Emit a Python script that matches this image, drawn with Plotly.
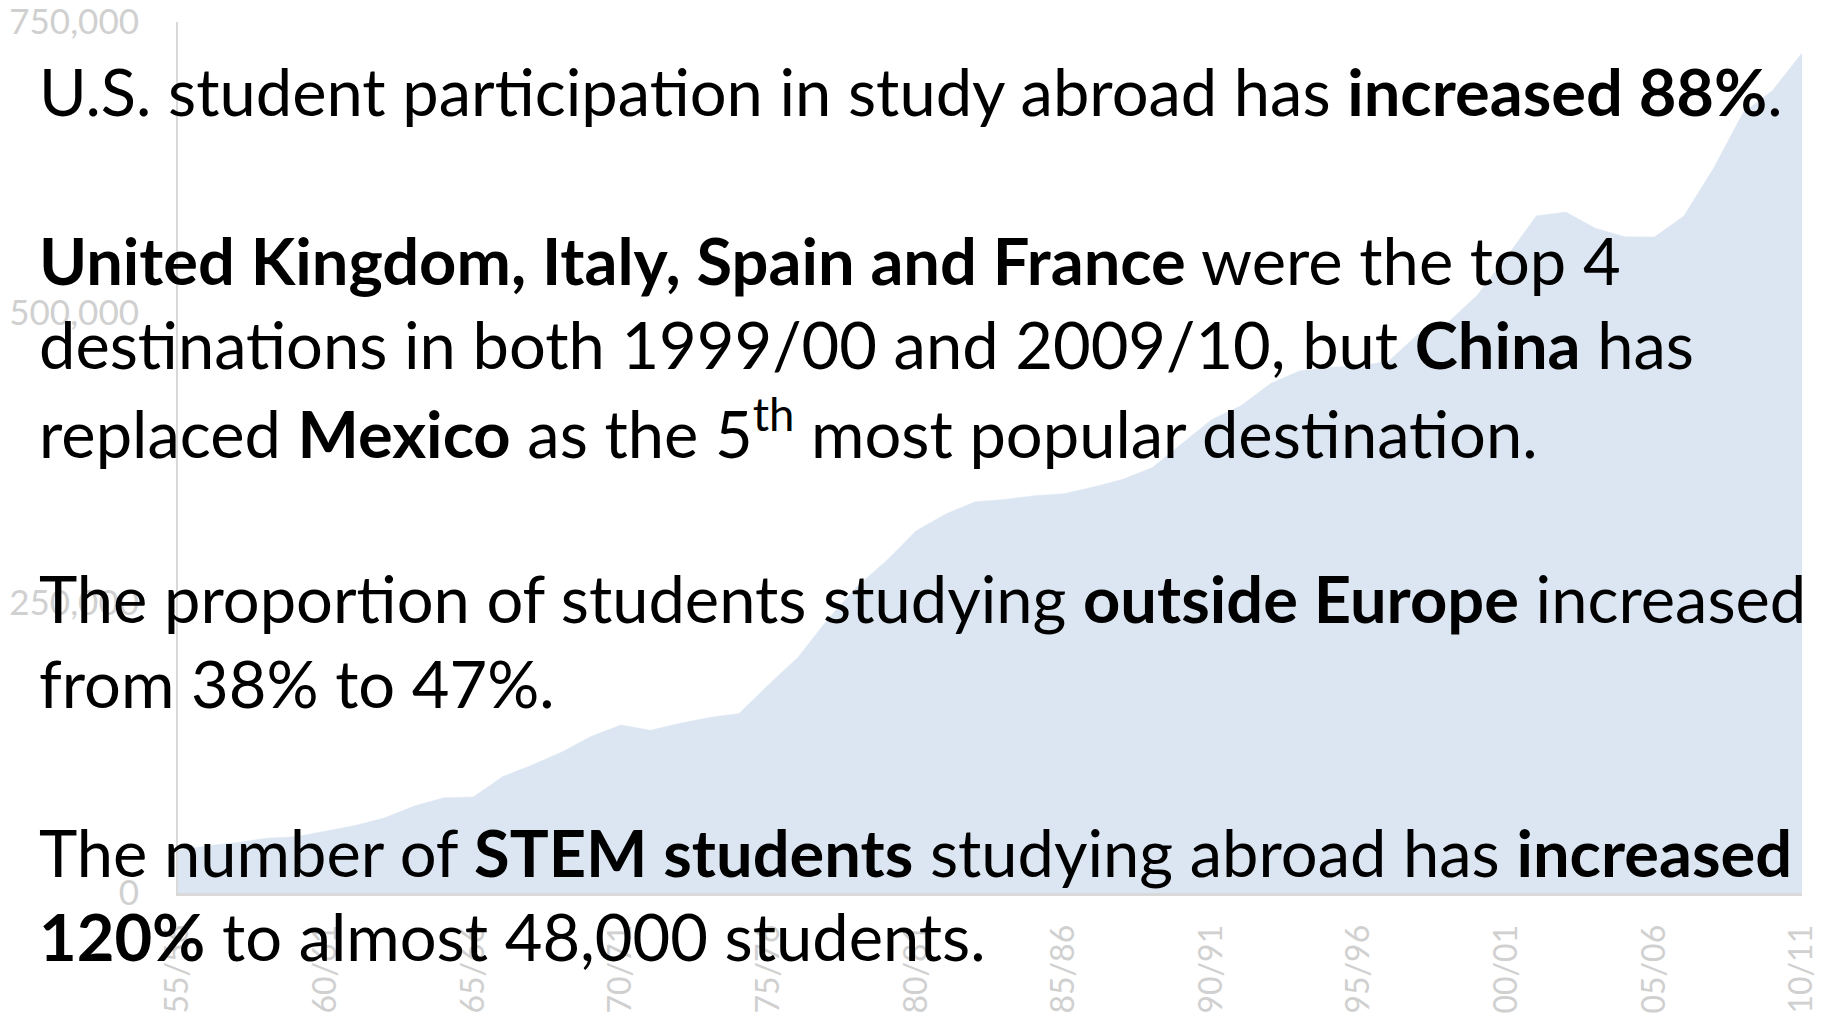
import plotly.graph_objects as go

# ---- data ----
years = ["55/56", "56/57", "57/58", "58/59", "59/60", "60/61", "61/62", "62/63", "63/64", "64/65",
         "65/66", "66/67", "67/68", "68/69", "69/70", "70/71", "71/72", "72/73", "73/74", "74/75",
         "75/76", "76/77", "77/78", "78/79", "79/80", "80/81", "81/82", "82/83", "83/84", "84/85",
         "85/86", "86/87", "87/88", "88/89", "89/90", "90/91", "91/92", "92/93", "93/94", "94/95",
         "95/96", "96/97", "97/98", "98/99", "99/00", "00/01", "01/02", "02/03", "03/04", "04/05",
         "05/06", "06/07", "07/08", "08/09", "09/10", "10/11"]
students = [36494, 40666, 43391, 47245, 48486, 53107, 58086, 64705, 74814, 82045,
            82709, 100262, 110315, 121362, 134959, 144708, 140126, 146097, 151066, 154580,
            179344, 203068, 235509, 263938, 286343, 311882, 326299, 336985, 338894, 342113,
            343777, 349609, 356187, 366354, 386851, 407529, 419585, 438618, 449749, 452653,
            453787, 457984, 481280, 490933, 514723, 547867, 582996, 586323, 572509, 565039,
            564766, 582984, 623805, 671616, 690923, 723277]
x_tick_labels = ["55/56", "60/61", "65/66", "70/71", "75/76", "80/81", "85/86",
                 "90/91", "95/96", "00/01", "05/06", "10/11"]
y_ticks = [0, 250000, 500000, 750000]

text_lines = [
    "U.S. student participation in study abroad has <b>increased 88%</b>.",
    "",
    "<b>United Kingdom, Italy, Spain and France</b> were the top 4",
    "destinations in both 1999/00 and 2009/10, but <b>China</b> has",
    "replaced <b>Mexico</b> as the 5<sup>th</sup> most popular destination.",
    "",
    "The proportion of students studying <b>outside Europe</b> increased",
    "from 38% to 47%.",
    "",
    "The number of <b>STEM students</b> studying abroad has <b>increased</b>",
    "<b>120%</b> to almost 48,000 students.",
]

# ---- layout constants (pixels) ----
W, H = 1837, 1019
L, R, T, B = 178, 35, 22, 126
PW = W - L - R
PH = H - T - B
FONT = "Lato, 'Open Sans', sans-serif"
GRAY_TXT = "#d0d0d0"
GRAY_LINE = "#d9d9d9"


def px_x(px):
    return (px - L) / PW


def px_y(py):
    return (H - B - py) / PH


fig = go.Figure()
fig.add_trace(go.Scatter(
    x=years, y=students, mode="lines", fill="tozeroy",
    fillcolor="#dce6f2", line=dict(color="#dce6f2", width=0.5),
    hoverinfo="skip", showlegend=False,
))

annotations = []
for i, line in enumerate(text_lines):
    if not line:
        continue
    annotations.append(dict(
        text=line, xref="paper", yref="paper",
        x=px_x(37), y=px_y(91 + 84.5 * i),
        xanchor="left", yanchor="middle", showarrow=False,
        font=dict(family=FONT, size=65, color="black"),
    ))

fig.update_layout(
    width=W, height=H, autosize=False,
    margin=dict(l=L, r=R, t=T, b=B, pad=0),
    paper_bgcolor="white", plot_bgcolor="white",
    showlegend=False,
    annotations=annotations,
    xaxis=dict(
        type="category", range=[0, len(years) - 1], automargin=False,
        tickmode="array", tickvals=x_tick_labels, ticktext=x_tick_labels,
        tickangle=-90, showgrid=False, zeroline=False,
        showline=True, linecolor=GRAY_LINE, linewidth=3,
        ticks="", ticklabelstandoff=16, ticklabeloverflow="allow",
        tickfont=dict(family=FONT, size=32, color=GRAY_TXT),
    ),
    yaxis=dict(
        range=[0, 750000], tickmode="array", tickvals=y_ticks, automargin=False,
        tickformat=",d", showgrid=False, zeroline=False,
        showline=True, linecolor=GRAY_LINE, linewidth=2,
        ticks="", ticklabelstandoff=30, ticklabeloverflow="allow",
        tickfont=dict(family=FONT, size=35, color=GRAY_TXT),
    ),
)

fig.write_html("out.html", config={"displayModeBar": False},
               post_script="document.body.style.margin='0';document.body.style.overflow='hidden';")
